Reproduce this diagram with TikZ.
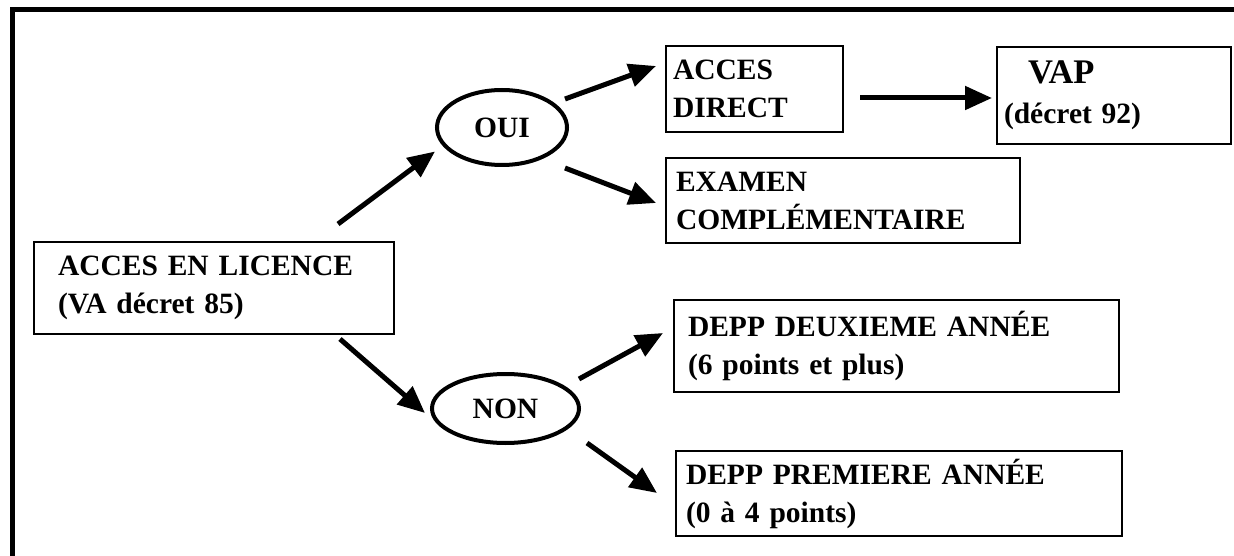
\documentclass[tikz,border=0pt]{standalone}
\usepackage{fontspec}
\setmainfont{Liberation Serif}
\usepackage{tikz}
\usetikzlibrary{positioning,shapes.geometric,arrows.meta}

\begin{document}
\begin{tikzpicture}[
    x=1pt, y=-1pt,
    every node/.style={font=\bfseries\fontsize{29.5}{38}\selectfont},
    box/.style={rectangle, draw, line width=2pt, anchor=north west, align=left, inner ysep=0pt},
    choice/.style={ellipse, draw, line width=4pt, inner sep=0pt},
    arrow/.style={-{Triangle[length=27pt,width=23pt]}, line width=5pt}
]

% Frame
\useasboundingbox (0,0) rectangle (1234,556);
\draw[line width=5pt] (12,556) -- (12,10) -- (1234,10);

% Nodes
\node (lic)    [box, text width=312pt, inner xsep=24pt, minimum height=92pt] at (33,241)  {ACCES EN LICENCE\\(VA décret 85)};
\node (oui)    [choice, minimum width=130pt, minimum height=75pt]            at (502,127.5) {OUI};
\node (non)    [choice, minimum width=147pt, minimum height=69pt]            at (505.5,408.5) {NON};
\node (direct) [box, text width=163pt, inner xsep=7pt, minimum height=86pt]  at (665,45)  {ACCES\\DIRECT};
\node (vap)    [box, text width=220pt, inner xsep=7pt, minimum height=97pt]  at (996,46)  {{\fontsize{34.5}{40}\selectfont\hspace*{24pt}VAP}\\[2pt](décret 92)};
\node (exam)   [box, text width=334pt, inner xsep=10pt, minimum height=85pt] at (665,157) {EXAMEN\\COMPLÉMENTAIRE};
\node (depp2)  [box, text width=417pt, inner xsep=14pt, minimum height=92pt] at (673,299) {DEPP DEUXIEME ANNÉE\\(6 points et plus)};
\node (depp1)  [box, text width=426pt, inner xsep=10pt, minimum height=85pt] at (675,450) {DEPP PREMIERE ANNÉE\\(0 à 4 points)};

% Arrows
\draw[arrow] ([shift={(-57,-17)}]lic.north east) -- ([shift={(0,24)}]oui.west);
\draw[arrow] ([shift={(-55,4)}]lic.south east)   -- ([shift={(-5,4.5)}]non.west);
\draw[arrow] ([shift={(63,-28.5)}]oui.center)    -- ([shift={(-9,-23)}]direct.west);
\draw[arrow] ([shift={(63,40.5)}]oui.center)     -- ([shift={(-9,2.5)}]exam.west);
\draw[arrow] ([shift={(16,9)}]direct.east)       -- ([shift={(-4,2.5)}]vap.west);
\draw[arrow] ([shift={(73.5,-29.5)}]non.center)  -- ([shift={(-10,-13)}]depp2.west);
\draw[arrow] ([shift={(81.5,34.5)}]non.center)   -- ([shift={(-18,-0.5)}]depp1.west);

\end{tikzpicture}
\end{document}
